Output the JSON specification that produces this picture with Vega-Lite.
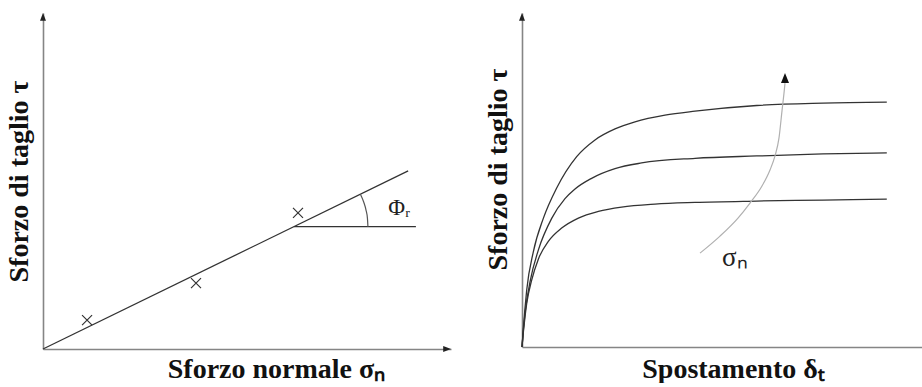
{
  "$schema": "https://vega.github.io/schema/vega-lite/v6.json",
  "padding": {"left": 5, "right": 0, "top": 13, "bottom": 0},
  "background": "white",
  "config": {
    "view": {"stroke": null},
    "axis": {
      "grid": false, "ticks": false, "labels": false,
      "domainColor": "#858585", "domainWidth": 1.6,
      "titleFont": "Liberation Serif", "titleFontSize": 28, "titleFontWeight": "bold", "titleColor": "#111"
    }
  },
  "datasets": {
    "lineL": [{"x": 0, "y": 0}, {"x": 89.5, "y": 53.0}],
    "horizL": [{"x": 61.5, "x2": 91.4, "y": 36.4}],
    "arcL": [
      {"x": 79.64, "y": 36.4}, {"x": 79.52, "y": 38.89}, {"x": 79.17, "y": 41.36}, {"x": 78.6, "y": 43.75}, {"x": 77.8, "y": 46.06}
    ],
    "marksL": [{"x": 10.8, "y": 8.6}, {"x": 37.5, "y": 19.6}, {"x": 62.5, "y": 40.5}],
    "labelL": [{"x": 84.6, "y": 42.0, "t": "Φᵣ"}],
    "curvesR": [
      {"s": "alto", "x": 0, "y": 0}, {"s": "alto", "x": 0.3, "y": 5.0}, {"s": "alto", "x": 0.7, "y": 11.0}, {"s": "alto", "x": 1.17, "y": 17.0},
      {"s": "alto", "x": 2.83, "y": 28.5}, {"s": "alto", "x": 5.33, "y": 38.5}, {"s": "alto", "x": 8.67, "y": 47.6},
      {"s": "alto", "x": 13.67, "y": 57.0}, {"s": "alto", "x": 18.25, "y": 62.0}, {"s": "alto", "x": 23.25, "y": 65.3},
      {"s": "alto", "x": 28.25, "y": 67.4}, {"s": "alto", "x": 35.75, "y": 69.4}, {"s": "alto", "x": 43.25, "y": 70.6},
      {"s": "alto", "x": 58.7, "y": 72.3}, {"s": "alto", "x": 75.25, "y": 73.0}, {"s": "alto", "x": 91.2, "y": 73.3},
      {"s": "medio", "x": 0, "y": 0}, {"s": "medio", "x": 0.3, "y": 4.5}, {"s": "medio", "x": 0.8, "y": 10.5}, {"s": "medio", "x": 2.0, "y": 19.5},
      {"s": "medio", "x": 4.08, "y": 29.0}, {"s": "medio", "x": 7.42, "y": 38.5}, {"s": "medio", "x": 10.75, "y": 44.4},
      {"s": "medio", "x": 13.25, "y": 47.3}, {"s": "medio", "x": 17.4, "y": 50.5}, {"s": "medio", "x": 23.25, "y": 53.4},
      {"s": "medio", "x": 29.9, "y": 55.1}, {"s": "medio", "x": 43.25, "y": 56.5}, {"s": "medio", "x": 58.7, "y": 57.2},
      {"s": "medio", "x": 75.25, "y": 57.8}, {"s": "medio", "x": 91.2, "y": 58.1},
      {"s": "basso", "x": 0, "y": 0}, {"s": "basso", "x": 0.3, "y": 4.0}, {"s": "basso", "x": 0.7, "y": 8.5}, {"s": "basso", "x": 1.17, "y": 13.0},
      {"s": "basso", "x": 2.42, "y": 20.0}, {"s": "basso", "x": 4.08, "y": 26.3}, {"s": "basso", "x": 6.58, "y": 31.6},
      {"s": "basso", "x": 9.92, "y": 35.6}, {"s": "basso", "x": 14.1, "y": 38.6}, {"s": "basso", "x": 19.1, "y": 40.6},
      {"s": "basso", "x": 24.9, "y": 41.9}, {"s": "basso", "x": 33.25, "y": 42.8}, {"s": "basso", "x": 43.25, "y": 43.3},
      {"s": "basso", "x": 58.7, "y": 43.7}, {"s": "basso", "x": 75.25, "y": 44.0}, {"s": "basso", "x": 91.2, "y": 44.3}
    ],
    "arrowR": [
      {"x": 44.5, "y": 28.1}, {"x": 49.5, "y": 33.2}, {"x": 54.0, "y": 38.6}, {"x": 57.0, "y": 43.1}, {"x": 60.0, "y": 48.2},
      {"x": 62.0, "y": 53.0}, {"x": 63.25, "y": 57.2}, {"x": 64.25, "y": 62.6}, {"x": 65.0, "y": 70.7}, {"x": 65.5, "y": 76.0},
      {"x": 65.75, "y": 79.0}
    ],
    "arrowHeadR": [{"x": 65.75, "y": 82.0}],
    "labelR": [{"x": 50.0, "y": 26.6, "t": "σₙ"}],
    "axisTipX": [{"x": 100, "y": 0}],
    "axisTipY": [{"x": 0, "y": 100}]
  },
  "hconcat": [
    {
      "width": 408,
      "height": 336,
      "encoding": {
        "x": {"field": "x", "type": "quantitative", "scale": {"domain": [0, 100], "nice": false},
              "axis": {"title": "Sforzo normale σₙ", "titleX": 233, "titleAnchor": "middle", "titlePadding": 6}},
        "y": {"field": "y", "type": "quantitative", "scale": {"domain": [0, 100], "nice": false},
              "axis": {"title": "Sforzo di taglio τ", "titlePadding": 10}}
      },
      "layer": [
        {"data": {"name": "lineL"}, "mark": {"type": "line", "color": "#333", "strokeWidth": 1.3}},
        {"data": {"name": "horizL"}, "mark": {"type": "rule", "color": "#333", "strokeWidth": 1.3}, "encoding": {"x2": {"field": "x2"}}},
        {"data": {"name": "arcL"}, "mark": {"type": "line", "color": "#555", "strokeWidth": 1.2, "interpolate": "monotone"}},
        {"data": {"name": "marksL"}, "mark": {"type": "point", "shape": "M-1,-1L1,1M-1,1L1,-1", "size": 100, "filled": false, "color": "#333", "strokeWidth": 1.2, "opacity": 1}},
        {"data": {"name": "labelL"}, "mark": {"type": "text", "align": "left", "baseline": "middle", "font": "Liberation Serif", "fontSize": 23, "color": "#222"}, "encoding": {"text": {"field": "t"}}},
        {"data": {"name": "axisTipX"}, "mark": {"type": "point", "shape": "M0,0L-2.6,-1L-2.6,1Z", "size": 36, "filled": true, "color": "#222", "opacity": 1, "clip": false}},
        {"data": {"name": "axisTipY"}, "mark": {"type": "point", "shape": "M0,0L-1,2.6L1,2.6Z", "size": 36, "filled": true, "color": "#222", "opacity": 1, "clip": false}}
      ]
    },
    {
      "width": 400,
      "height": 334,
      "encoding": {
        "x": {"field": "x", "type": "quantitative", "scale": {"domain": [0, 100], "nice": false},
              "axis": {"title": "Spostamento δₜ", "titleX": 211, "titleAnchor": "middle", "titlePadding": 8}},
        "y": {"field": "y", "type": "quantitative", "scale": {"domain": [0, 100], "nice": false},
              "axis": {"title": "Sforzo di taglio τ", "titlePadding": 10, "titleY": 156}}
      },
      "layer": [
        {"data": {"name": "curvesR"}, "mark": {"type": "line", "color": "#333", "strokeWidth": 1.3, "interpolate": "monotone"}, "encoding": {"detail": {"field": "s"}}},
        {"data": {"name": "arrowR"}, "mark": {"type": "line", "color": "#b0b0b0", "strokeWidth": 1.2, "interpolate": "monotone"}},
        {"data": {"name": "arrowHeadR"}, "mark": {"type": "point", "shape": "M0,0L-0.8,2L0.8,2Z", "size": 100, "filled": true, "color": "#111", "opacity": 1}},
        {"data": {"name": "labelR"}, "mark": {"type": "text", "align": "left", "baseline": "middle", "font": "Liberation Serif", "fontSize": 27, "color": "#222"}, "encoding": {"text": {"field": "t"}}},
        {"data": {"name": "axisTipY"}, "mark": {"type": "point", "shape": "M0,0L-1,2.6L1,2.6Z", "size": 36, "filled": true, "color": "#222", "opacity": 1, "clip": false}}
      ]
    }
  ],
  "spacing": 33
}
